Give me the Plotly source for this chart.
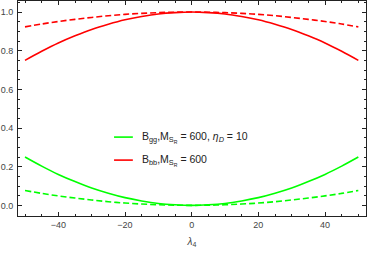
import plotly.graph_objects as go

lam = [-50, -45, -40, -35, -30, -25, -20, -15, -10, -5, 0, 5, 10, 15, 20, 25, 30, 35, 40, 45, 50]
bgg_solid = [0.250, 0.203, 0.160, 0.123, 0.090, 0.063, 0.040, 0.023, 0.010, 0.003, 0.0,
             0.003, 0.010, 0.023, 0.040, 0.063, 0.090, 0.123, 0.160, 0.203, 0.250]
bbb_solid = [0.750, 0.797, 0.840, 0.877, 0.910, 0.937, 0.960, 0.977, 0.990, 0.997, 1.0,
             0.997, 0.990, 0.977, 0.960, 0.937, 0.910, 0.877, 0.840, 0.797, 0.750]
bgg_dash = [0.077, 0.062, 0.049, 0.038, 0.028, 0.019, 0.012, 0.007, 0.003, 0.001, 0.0,
            0.001, 0.003, 0.007, 0.012, 0.019, 0.028, 0.038, 0.049, 0.062, 0.077]
bbb_dash = [0.923, 0.938, 0.951, 0.962, 0.972, 0.981, 0.988, 0.993, 0.997, 0.999, 1.0,
            0.999, 0.997, 0.993, 0.988, 0.981, 0.972, 0.962, 0.951, 0.938, 0.923]
legend_labels = ["B<sub>gg</sub>,M<sub>S<sub>R</sub></sub> = 600, <i>η<sub>D</sub></i> = 10",
                 "B<sub>bb</sub>,M<sub>S<sub>R</sub></sub> = 600"]

GREEN = "#00FF00"
RED = "#FF0000"
FONT = "Liberation Sans, Arial, sans-serif"

fig = go.Figure()
fig.add_trace(go.Scatter(x=lam, y=bgg_solid, mode="lines", name=legend_labels[0],
                         line=dict(color=GREEN, width=1.6, shape="spline")))
fig.add_trace(go.Scatter(x=lam, y=bbb_solid, mode="lines", name=legend_labels[1],
                         line=dict(color=RED, width=1.6, shape="spline")))
fig.add_trace(go.Scatter(x=lam, y=bgg_dash, mode="lines",
                         line=dict(color=GREEN, width=1.6, dash="6px,3px", shape="spline")))
fig.add_trace(go.Scatter(x=lam, y=bbb_dash, mode="lines",
                         line=dict(color=RED, width=1.6, dash="6px,3px", shape="spline")))

# manual legend (paper coordinates of the plot area)
leg_rows = [(0.367, GREEN, legend_labels[0]), (0.260, RED, legend_labels[1])]
for yp, col, txt in leg_rows:
    fig.add_shape(type="line", xref="paper", yref="paper", x0=0.276, x1=0.330, y0=yp, y1=yp,
                  line=dict(color=col, width=1.6))
    fig.add_annotation(xref="paper", yref="paper", x=0.352, y=yp, xanchor="left", yanchor="middle",
                       text=txt, showarrow=False, font=dict(family=FONT, size=10.5, color="#222"))

axis_common = dict(
    showline=True, linecolor="#222", linewidth=1, mirror="allticks", automargin=False,
    ticks="inside", ticklen=4, tickcolor="#222", showgrid=False, zeroline=False,
    tickfont=dict(family=FONT, size=9, color="#444"),
)
fig.update_layout(
    width=368, height=254,
    margin=dict(l=18, r=2, t=1, b=38),
    paper_bgcolor="white", plot_bgcolor="white",
    showlegend=False,
    xaxis=dict(range=[-52.1, 52.3], tickvals=[-40, -20, 0, 20, 40],
               minor=dict(dtick=5, tick0=0, ticks="inside", ticklen=2, tickcolor="#222"),
               title=dict(text="<i>λ</i><sub>4</sub>", standoff=9,
                          font=dict(family=FONT, size=10, color="#444")),
               **axis_common),
    yaxis=dict(range=[-0.055, 1.057], tickvals=[0, 0.2, 0.4, 0.6, 0.8, 1.0], tickformat=".1f",
               ticklabelstandoff=2,
               minor=dict(dtick=0.05, tick0=0, ticks="inside", ticklen=2, tickcolor="#222"),
               **axis_common),
)
fig.write_html("out.html", config={"displayModeBar": False},
               post_script="document.body.style.margin='0';document.body.style.overflow='hidden';")
